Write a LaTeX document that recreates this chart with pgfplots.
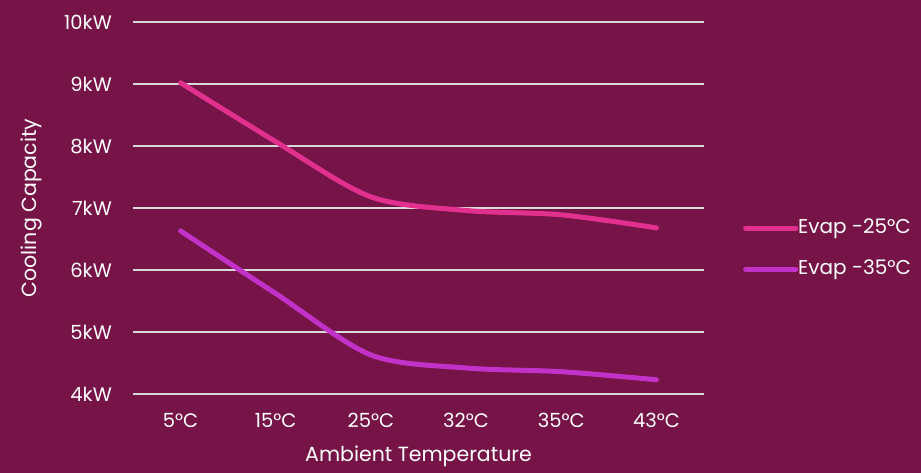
\documentclass[border=0pt]{standalone}
\usepackage{pgfplots}
\pgfplotsset{compat=1.18}
\usepackage{fontspec}
\setmainfont{Poppins}
\definecolor{bg}{HTML}{761447}
\definecolor{lineA}{HTML}{E2308F}
\definecolor{lineB}{HTML}{C231C8}
\definecolor{gridc}{HTML}{D9D9D9}
\begin{document}
\begin{tikzpicture}
\path[fill=bg, use as bounding box] (-133bp,-79bp) rectangle (788bp,394bp);
\begin{axis}[
  scale only axis,
  width=571bp, height=372bp,
  xmin=-0.5, xmax=5.5, ymin=4, ymax=10,
  xtick=data,
  xticklabels={5°C,15°C,25°C,32°C,35°C,43°C},
  ytick={4,5,6,7,8,9,10},
  yticklabels={4kW,5kW,6kW,7kW,8kW,9kW,10kW},
  major tick length=0pt,
  axis line style={draw=none},
  ymajorgrids, xmajorgrids=false,
  grid style={draw=gridc, line width=1.3bp},
  tick label style={text=white, font=\fontsize{19.5bp}{23bp}\selectfont},
  yticklabel style={inner sep=0pt, anchor=east, xshift=-21bp},
  xticklabel style={inner sep=0pt, anchor=north, yshift=-19bp},
  xlabel={Ambient Temperature},
  ylabel={Cooling Capacity},
  label style={text=white, font=\fontsize{20.5bp}{24bp}\selectfont},
  xlabel style={at={(axis description cs:0.5,0)}, anchor=center, yshift=-62bp},
  ylabel style={at={(axis description cs:-0.1786,0.5)}, anchor=center},
  legend style={at={(axis description cs:1.0683,0.391)}, anchor=west, draw=none, fill=none,
    inner sep=0pt, row sep=25bp, text=white,
    font=\fontsize{20bp}{24bp}\selectfont,
    nodes={inner sep=0pt, text height=13bp, text depth=3bp}},
  legend cell align=left,
  legend image code/.code={\draw[#1, line width=5bp, line cap=round] (2.5bp,0bp) -- (52.5bp,0bp);},
  clip=false,
]
\addplot[lineA, line width=5bp, line cap=round, smooth, tension=0.5] coordinates {
  (0,9.02) (1,8.07) (2,7.18) (3,6.96) (4,6.89) (5,6.68)};
\addlegendentry{Evap -25°C}
\addplot[lineB, line width=5bp, line cap=round, smooth, tension=0.5] coordinates {
  (0,6.63) (1,5.62) (2,4.63) (3,4.42) (4,4.36) (5,4.23)};
\addlegendentry{Evap -35°C}
\end{axis}
\end{tikzpicture}
\end{document}
